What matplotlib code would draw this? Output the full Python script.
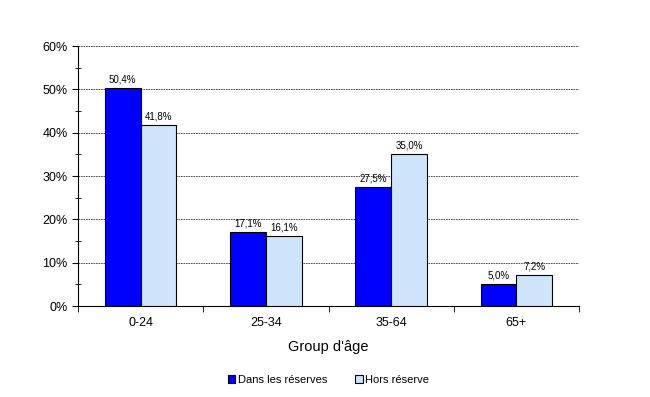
import numpy as np
import matplotlib.pyplot as plt
from matplotlib.ticker import MultipleLocator, FuncFormatter

plt.rcParams['font.family'] = ['Liberation Sans', 'DejaVu Sans']

categories = ['0-24', '25-34', '35-64', '65+']
dans = [50.4, 17.1, 27.5, 5.0]
hors = [41.8, 16.1, 35.0, 7.2]
series_names = ['Dans les réserves', 'Hors réserve']

fig = plt.figure(figsize=(6.5, 3.97), dpi=100)
ax = fig.add_axes([0.12, 0.2292, 0.7708, 0.6549])

x = np.arange(len(categories))
w = 0.285
b1 = ax.bar(x - w/2, dans, w, color='#0000ff', edgecolor='black', linewidth=0.8,
            label=series_names[0], zorder=3)
b2 = ax.bar(x + w/2, hors, w, color='#cde4fa', edgecolor='black', linewidth=0.8,
            label=series_names[1], zorder=3)
for bars in (b1, b2):
    for r in bars:
        v = r.get_height()
        ax.text(r.get_x() + r.get_width()/2, v + 0.8, f'{v:.1f}%'.replace('.', ','),
                ha='center', va='bottom', fontsize=7)

ax.set_xlim(-0.5, len(categories) - 0.5)
ax.set_ylim(0, 60)
ax.yaxis.set_major_locator(MultipleLocator(10))
ax.yaxis.set_minor_locator(MultipleLocator(5))
ax.yaxis.set_major_formatter(FuncFormatter(lambda v, p: f'{v:.0f}%'))
ax.yaxis.grid(True, which='major', linestyle=(0, (2, 1)), color='#333333', linewidth=0.6, zorder=0)
ax.tick_params(axis='y', which='major', direction='out', length=4, labelsize=9)
ax.tick_params(axis='y', which='minor', direction='inout', length=4)

ax.set_xticks(x)
ax.set_xticklabels(categories, fontsize=9)
ax.tick_params(axis='x', which='major', length=0, pad=8)
ax.set_xticks(np.arange(len(categories) + 1) - 0.5, minor=True)
ax.tick_params(axis='x', which='minor', direction='out', length=4)

for s in ('top', 'right'):
    ax.spines[s].set_visible(False)
ax.set_xlabel("Group d'âge", fontsize=10.5, labelpad=8)

leg = fig.legend(loc='center', ncol=2, frameon=False,
                 fontsize=8, handlelength=0.7, handleheight=0.7, handletextpad=0.2,
                 columnspacing=2.5)
leg.set_bbox_to_anchor((0.505, 1 - 380/397), transform=fig.transFigure)

fig.savefig('out.png', dpi=100)
